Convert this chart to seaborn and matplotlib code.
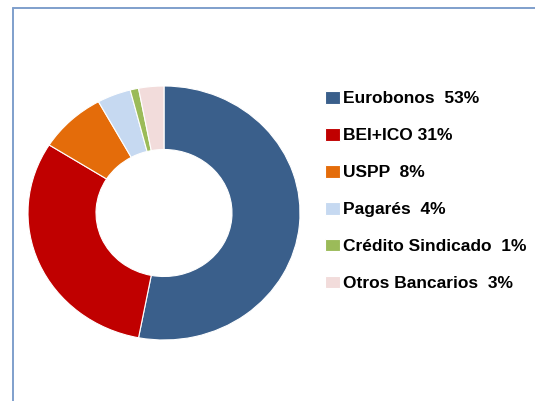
import matplotlib
matplotlib.use("Agg")
import matplotlib.pyplot as plt
import seaborn as sns
from matplotlib.lines import Line2D

# funding mix, clockwise from 12 o'clock
categories = ["Eurobonos", "BEI+ICO", "USPP", "Pagarés", "Crédito Sindicado", "Otros Bancarios"]
shares = [53, 31, 8, 4, 1, 3]
legend_labels = ["Eurobonos  53%", "BEI+ICO 31%", "USPP  8%", "Pagarés  4%",
                 "Crédito Sindicado  1%", "Otros Bancarios  3%"]
colors = ["#3A5F8B", "#C00000", "#E46C0A", "#C6D9F1", "#9BBB59", "#F2DCDB"]

sns.set_style("white")
plt.rcParams["font.family"] = ["Liberation Sans", "DejaVu Sans"]
plt.rcParams["text.color"] = "black"

fig = plt.figure(figsize=(5.35, 4.01), dpi=100)
ax = fig.add_axes([28 / 535, 61 / 401, 272 / 535, 254 / 401])

wedges, _ = ax.pie(shares, colors=colors, startangle=90, counterclock=False,
                   radius=1.0, wedgeprops=dict(width=0.5, edgecolor="white", linewidth=0.8))
ax.set_aspect("auto")
ax.set_xlim(-1, 1)
ax.set_ylim(-1, 1)
ax.axis("off")

leg = fig.legend(wedges, legend_labels, loc="upper left", bbox_to_anchor=(325 / 535, 1 - 91 / 401),
                 frameon=False, handlelength=0.85, handleheight=0.75, handletextpad=0.2,
                 labelspacing=1.24, borderaxespad=0, borderpad=0,
                 prop=dict(weight="bold", size=12.5))
for t in leg.get_texts():
    t.set_color("black")

# blue frame of the slide box (left and top edges)
frame_c = "#7F9FCC"
fig.add_artist(Line2D([13 / 535, 13 / 535], [0, 1 - 8 / 401], color=frame_c, lw=1.4,
                      transform=fig.transFigure))
fig.add_artist(Line2D([13 / 535, 1], [1 - 8 / 401, 1 - 8 / 401], color=frame_c, lw=1.4,
                      transform=fig.transFigure))

fig.savefig("out.png", dpi=100)
